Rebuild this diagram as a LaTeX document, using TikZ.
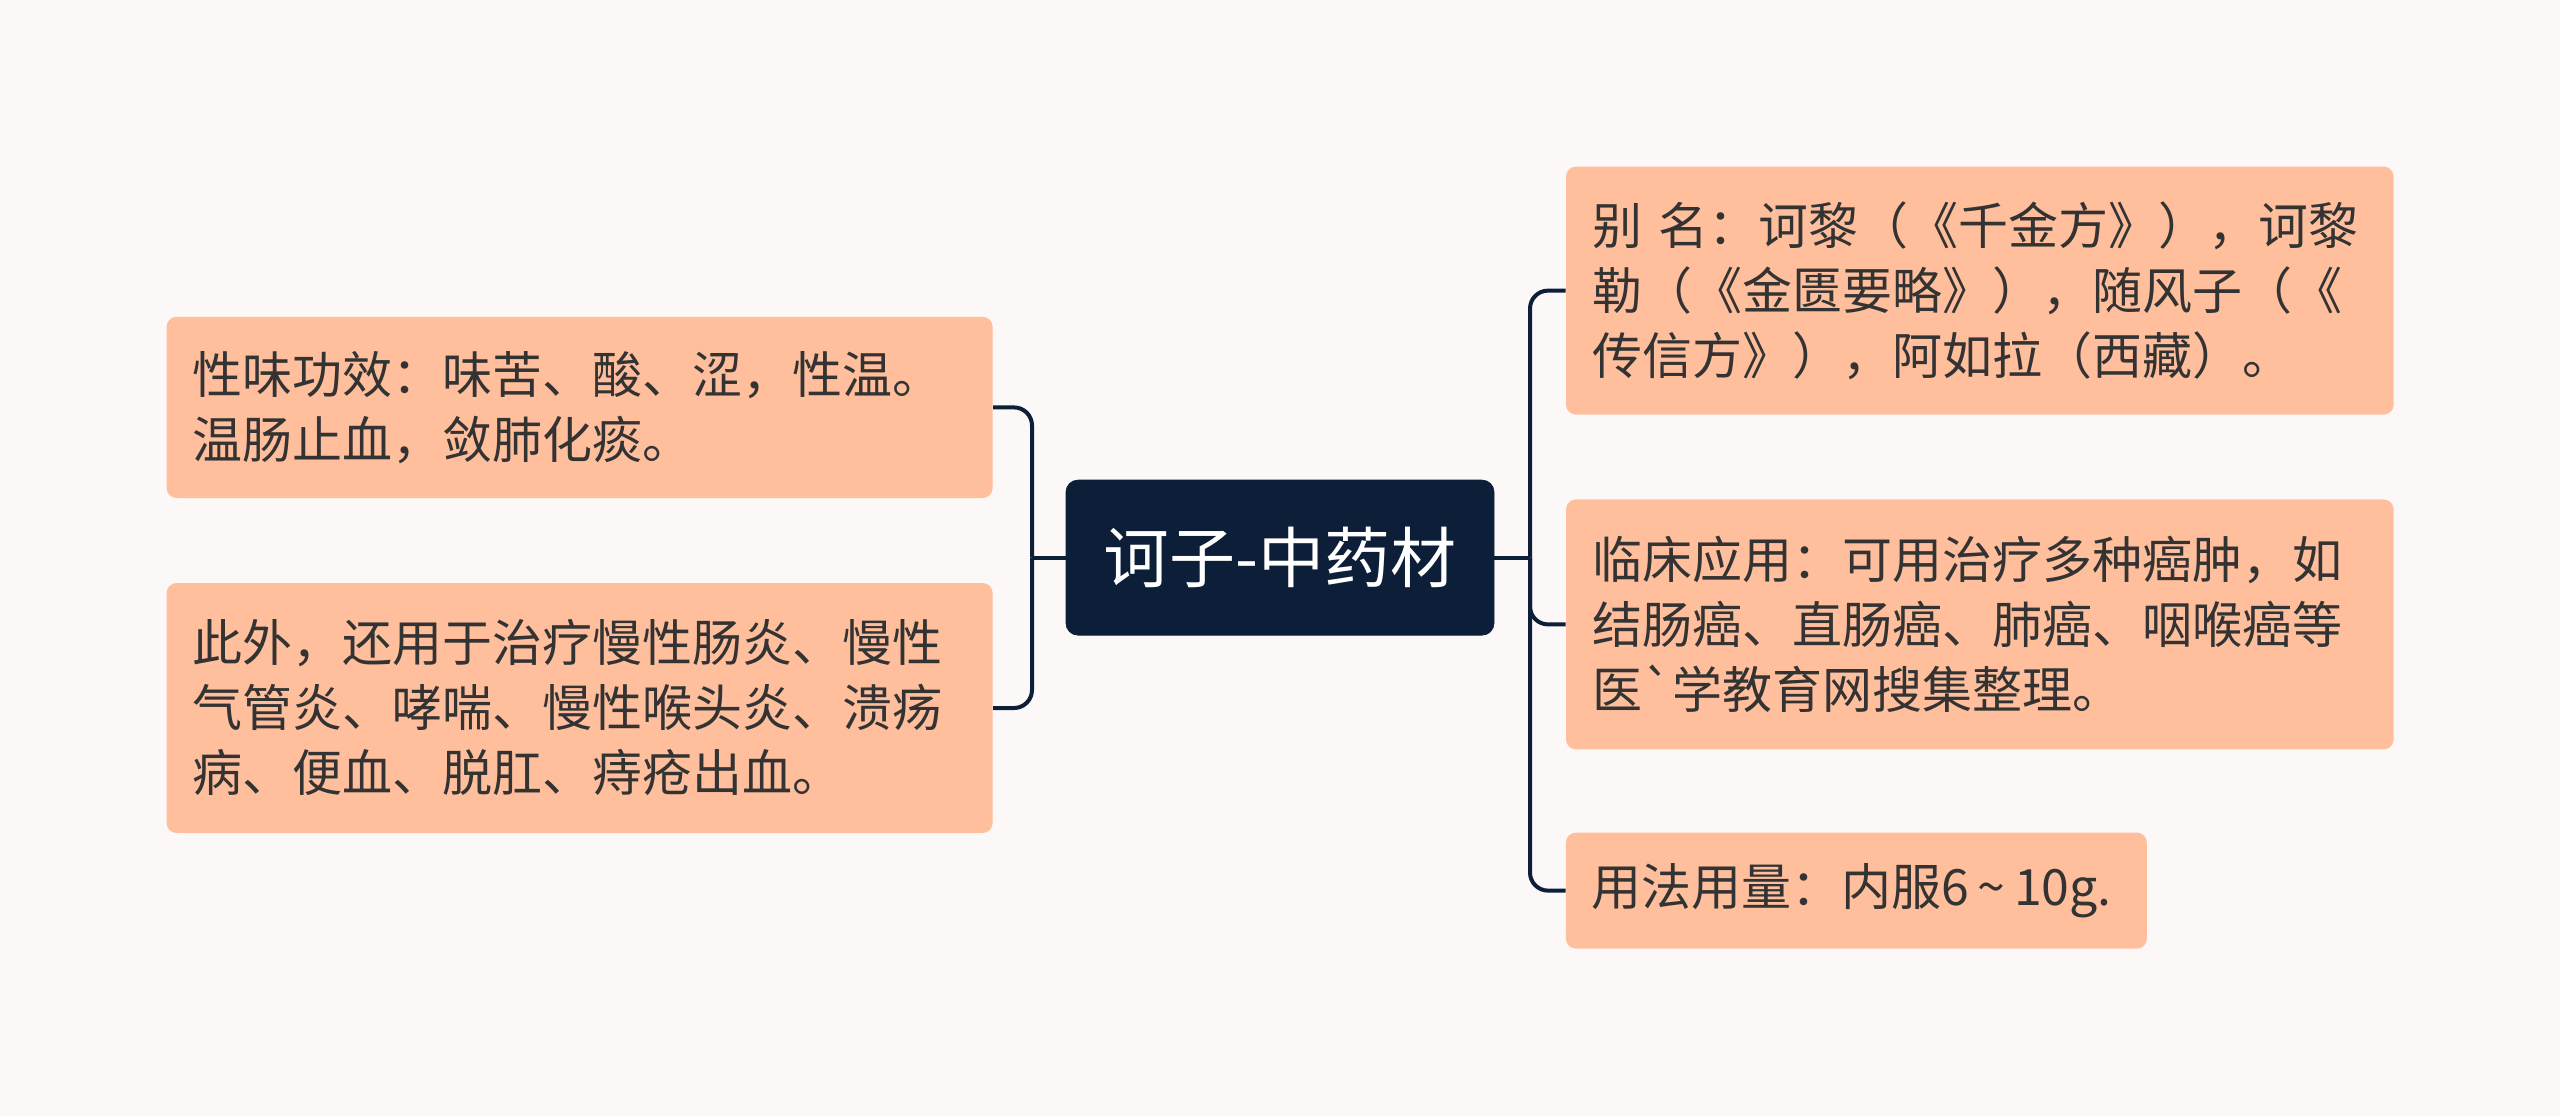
\documentclass[tikz,border=0pt]{standalone}
\usepackage{fontspec}
\setmainfont{Noto Sans CJK SC}[Ligatures=TeXOff]
\definecolor{bgc}{HTML}{FCF8F7}
\definecolor{boxc}{HTML}{FFBF9D}
\definecolor{navy}{HTML}{0D1F38}
\definecolor{txt}{HTML}{333333}
\tikzset{
  leaf/.style={rectangle, rounded corners=5pt, fill=boxc, text=txt, inner xsep=13pt, inner ysep=0pt, align=left,
    font=\fontsize{25}{32.5}\selectfont},
  root/.style={rectangle, rounded corners=6pt, fill=navy, draw=navy, text=white, align=center,
    font=\fontsize{33}{40}\selectfont, inner sep=0pt},
  link/.style={draw=navy, line width=2pt, rounded corners=9pt}
}
\begin{document}
\begin{tikzpicture}[x=1pt,y=-1pt]
\fill[bgc] (0,0) rectangle (1280,558);
\useasboundingbox (0,0) rectangle (1280,558);
\node[root, minimum width=214pt, minimum height=77.5pt] (main) at (640,278.8) {诃子-中药材};
\node[leaf, text width=387pt, minimum height=90.6pt] (l1) at (289.8,203.7) {性味功效：味苦、酸、涩，性温。\\温肠止血，敛肺化痰。};
\node[leaf, text width=387pt, minimum height=125pt] (l2) at (289.8,354) {此外，还用于治疗慢性肠炎、慢性\\气管炎、哮喘、慢性喉头炎、溃疡\\病、便血、脱肛、痔疮出血。};
\node[leaf, text width=387.8pt, minimum height=124pt] (r1) at (989.9,145.3) {别 名：诃黎（《千金方》），诃黎\\勒（《金匮要略》），随风子（《\\传信方》），阿如拉（西藏）。};
\node[leaf, text width=387.8pt, minimum height=125pt] (r2) at (989.9,312.2) {临床应用：可用治疗多种癌肿，如\\结肠癌、直肠癌、肺癌、咽喉癌等\\医`学教育网搜集整理。};
\node[leaf, text width=264.5pt, minimum height=58pt] (r3) at (928.2,445.3) {\mbox{用法用量：内服6\,\textasciitilde\,10g.}};
\coordinate (lj) at (516,278.8);
\coordinate (rj) at (765,278.8);
\draw[link] (main.west) -- (lj);
\draw[link] (main.east) -- (rj);
\draw[link] (lj) |- (l1.east);
\draw[link] (lj) |- (l2.east);
\draw[link] (rj) |- (r1.west);
\draw[link] (rj) |- (r2.west);
\draw[link] (rj) |- (r3.west);
\end{tikzpicture}
\end{document}
